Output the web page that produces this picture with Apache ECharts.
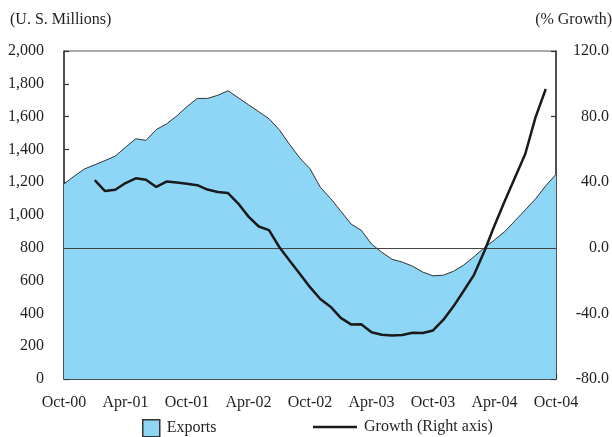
<!DOCTYPE html>
<html>
<head>
<meta charset="utf-8">
<script src="https://cdn.jsdelivr.net/npm/echarts@6/dist/echarts.min.js"></script>
<style>
html,body{margin:0;padding:0;background:#fff;}
#chart{width:612px;height:437px;}
</style>
</head>
<body>
<div id="chart"></div>
<script>
const categories = [
  'Oct-00','Nov-00','Dec-00','Jan-01','Feb-01','Mar-01','Apr-01','May-01','Jun-01','Jul-01','Aug-01','Sep-01',
  'Oct-01','Nov-01','Dec-01','Jan-02','Feb-02','Mar-02','Apr-02','May-02','Jun-02','Jul-02','Aug-02','Sep-02',
  'Oct-02','Nov-02','Dec-02','Jan-03','Feb-03','Mar-03','Apr-03','May-03','Jun-03','Jul-03','Aug-03','Sep-03',
  'Oct-03','Nov-03','Dec-03','Jan-04','Feb-04','Mar-04','Apr-04','May-04','Jun-04','Jul-04','Aug-04','Sep-04',
  'Oct-04'
];
const exportsValues = [
  1190, 1237, 1281, 1306, 1332, 1359, 1413, 1465, 1455, 1521, 1555, 1604,
  1661, 1711, 1711, 1730, 1758, 1715, 1672, 1630, 1587, 1520, 1431, 1348,
  1282, 1170, 1101, 1024, 945, 907, 823, 773, 730, 713, 688, 652,
  629, 633, 657, 695, 746, 800, 848, 899, 965, 1031, 1098, 1178,
  1248
];
const growthValues = [
  null, null, null, 41.3, 34.6, 35.4, 39.5, 42.4, 41.5, 37.1, 40.4, 39.8,
  39.0, 38.2, 35.5, 34.0, 33.4, 27.0, 19.0, 13.0, 10.8, 0.5, -7.7, -15.8,
  -24.0, -31.2, -35.9, -42.7, -46.7, -46.6, -51.5, -53.0, -53.5, -53.2, -51.8, -52.0,
  -50.4, -44.0, -35.7, -26.2, -16.5, -2.3, 13.6, 28.5, 42.9, 57.2, 79.5, 96.8,
  null
];
const leftTicks = {min: 0, max: 2000, interval: 200};
const rightTicks = {min: -80, max: 120, interval: 40};
const zeroLineLeft = 800;

const FONT = '"Liberation Serif", "DejaVu Serif", serif';
const chart = echarts.init(document.getElementById('chart'), null, {renderer: 'canvas'});
chart.setOption({
  animation: false,
  backgroundColor: '#fff',
  textStyle: {fontFamily: FONT, color: '#231f20'},
  title: [
    {text: '(U. S. Millions)', left: 5, top: 7,
     textStyle: {fontFamily: FONT, fontSize: 16, fontWeight: 'normal', color: '#231f20'}},
    {text: '(% Growth)', right: -5, top: 7,
     textStyle: {fontFamily: FONT, fontSize: 16, fontWeight: 'normal', color: '#231f20'}}
  ],
  grid: {left: 64, right: 52, top: 51, bottom: 58, show: true, borderColor: '#555', borderWidth: 1, backgroundColor: 'transparent'},
  legend: [
    {data: ['Exports'], icon: 'rect',
     left: 137, top: 414, itemWidth: 17, itemHeight: 17, itemGap: 7,
     itemStyle: {color: '#8ED6F6', borderColor: '#333', borderWidth: 1.5, borderType: 'solid'},
     textStyle: {fontFamily: FONT, fontSize: 16, color: '#231f20', padding: [0, 0, 0, 2]}},
    {data: ['Growth (Right axis)'], left: 308, top: 414, icon: 'rect', itemWidth: 44, itemHeight: 2.5,
     itemStyle: {color: '#1a1a1a', borderWidth: 0},
     textStyle: {fontFamily: FONT, fontSize: 16, color: '#231f20', padding: [0, 0, 0, 2]}}
  ],
  xAxis: {
    type: 'category', data: categories, boundaryGap: false,
    axisLine: {show: true, lineStyle: {color: '#333', width: 1.5}},
    axisTick: {show: true, inside: true, length: 5, interval: 5, lineStyle: {color: '#333', width: 1.2}},
    axisLabel: {interval: 5, margin: 16, fontFamily: FONT, fontSize: 16, color: '#231f20'},
    splitLine: {show: false}
  },
  yAxis: [
    {type: 'value', min: leftTicks.min, max: leftTicks.max, interval: leftTicks.interval, position: 'left',
     axisLine: {show: true, lineStyle: {color: '#333', width: 1.5}},
     axisTick: {show: true, inside: true, length: 5, lineStyle: {color: '#333', width: 1.2}},
     axisLabel: {margin: 20, fontFamily: FONT, fontSize: 16, color: '#231f20',
       formatter: v => v.toLocaleString('en-US')},
     splitLine: {show: false}},
    {type: 'value', min: rightTicks.min, max: rightTicks.max, interval: rightTicks.interval, position: 'right',
     axisLine: {show: true, lineStyle: {color: '#333', width: 1.5}},
     axisTick: {show: true, inside: true, length: 5, lineStyle: {color: '#333', width: 1.2}},
     axisLabel: {margin: 53, align: 'right', fontFamily: FONT, fontSize: 16, color: '#231f20',
       formatter: v => v.toFixed(1)},
     splitLine: {show: false}}
  ],
  series: [
    {name: 'Exports', type: 'line', data: exportsValues, symbol: 'rect', showSymbol: false, yAxisIndex: 0,
     lineStyle: {color: '#333', width: 1},
     itemStyle: {color: '#8ED6F6', borderColor: '#333', borderWidth: 1.5},
     areaStyle: {color: '#8ED6F6', opacity: 1},
     markLine: {silent: true, symbol: 'none', label: {show: false},
       lineStyle: {color: '#444', width: 1, type: 'solid'},
       data: [{yAxis: zeroLineLeft}]}},
    {name: 'Growth (Right axis)', type: 'line', data: growthValues, symbol: 'none', yAxisIndex: 1,
     connectNulls: false, lineStyle: {color: '#1a1a1a', width: 2.5}, itemStyle: {color: '#1a1a1a'}, z: 5}
  ]
});
</script>
</body>
</html>
